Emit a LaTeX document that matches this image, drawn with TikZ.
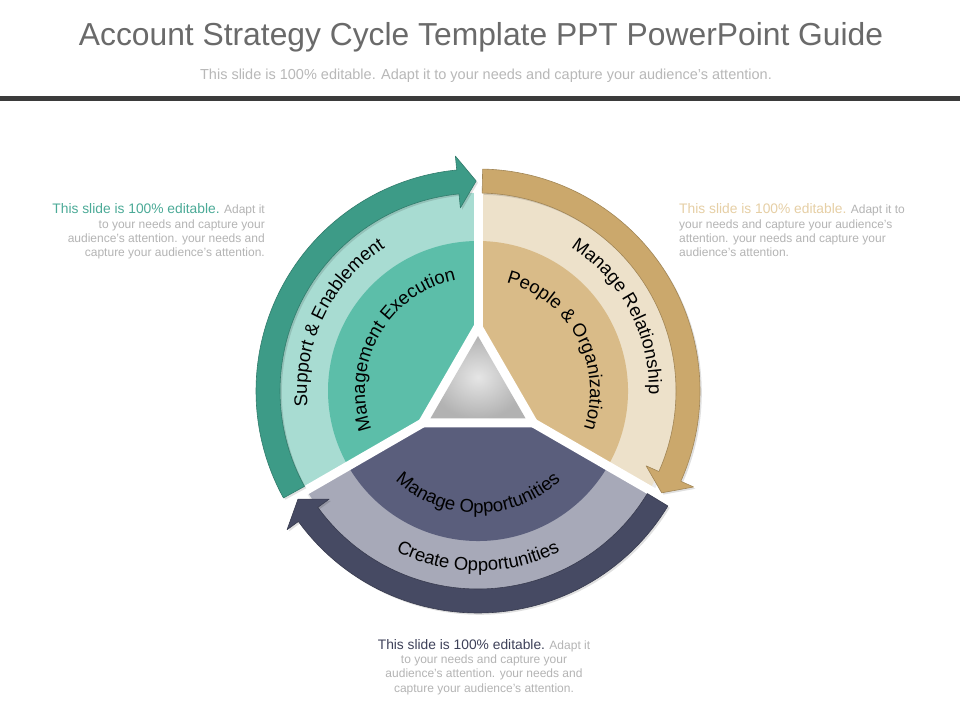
\documentclass[tikz,border=0pt]{standalone}
\usepackage{fontspec}
\setmainfont{Liberation Sans}
\usetikzlibrary{decorations.text}
\definecolor{titlegray}{HTML}{6A6A6A}
\definecolor{subgray}{HTML}{B8B8B8}
\definecolor{bodygray}{HTML}{B4B4B4}
\definecolor{bardark}{HTML}{3B3B3B}
\definecolor{tealpale}{HTML}{A8DCD2}
\definecolor{tealmid}{HTML}{5CBEA9}
\definecolor{tealband}{HTML}{3D9B87}
\definecolor{tanpale}{HTML}{EDE1CA}
\definecolor{tanmid}{HTML}{D9BB88}
\definecolor{tanband}{HTML}{CBA86C}
\definecolor{slatepale}{HTML}{A7A9B8}
\definecolor{slatemid}{HTML}{5A5E7C}
\definecolor{slateband}{HTML}{464A63}
\definecolor{tealtext}{HTML}{4BAA97}
\definecolor{tantext}{HTML}{E6CFA5}
\definecolor{slatetext}{HTML}{3E4159}
\newcommand\arclab{\fontsize{18.5}{22}\selectfont\color{black}}
\newcommand\sectorfill[4]{\fill[#1] (0,0) -- (#2:#4) arc[start angle=#2, end angle=#3, radius=#4] -- cycle;}
\newcommand\arrowpath[3]{(#1:222) arc[start angle=#1, end angle=#2, radius=222] -- (#2:236) -- (#3:210) -- (#2:184) -- (#2:198) arc[start angle=#2, end angle=#1, radius=198] -- cycle}
\newcommand\cycarrow[4]{%
  \fill[black, opacity=0.12, shift={(1.8,-1.8)}] \arrowpath{#2}{#3}{#4};
  \filldraw[fill=#1, draw=#1!80!black, line width=0.6, line join=round] \arrowpath{#2}{#3}{#4};}
\tikzset{
  bodytext/.style={font=\fontsize{12}{14}\selectfont, text=bodygray},
  blockline/.style={inner sep=0pt}
}
\begin{document}
\begin{tikzpicture}[x=1pt,y=1pt]
\useasboundingbox (0,0) rectangle (960,720);
\fill[white] (0,0) rectangle (960,720);
% header
\node[anchor=base, inner sep=0, text=titlegray, font=\fontsize{31.8}{36}\selectfont] (title) at (481,674) {Account Strategy Cycle Template PPT PowerPoint Guide};
\node[anchor=base, inner sep=0, text=subgray, font=\fontsize{14.5}{17}\selectfont] (subtitle) at (486,640) {This slide is 100\% editable. Adapt it to your needs and capture your audience's attention.};
\fill[bardark] (0,619) rectangle (960,624);
% left block
\node[blockline, anchor=base east] (l1) at (265,506) {\textcolor{tealtext}{\fontsize{13.8}{16}\selectfont This slide is 100\% editable.}\textcolor{bodygray}{\fontsize{12}{14}\selectfont{} Adapt it}};
\node[blockline, bodytext, anchor=base east] (l2) at (265,491.7) {to your needs and capture your};
\node[blockline, bodytext, anchor=base east] (l3) at (265,477.3) {audience's attention. your needs and};
\node[blockline, bodytext, anchor=base east] (l4) at (265,463) {capture your audience's attention.};
% right block
\node[blockline, anchor=base west] (r1) at (679,506) {\textcolor{tantext}{\fontsize{13.8}{16}\selectfont This slide is 100\% editable.}\textcolor{bodygray}{\fontsize{12}{14}\selectfont{} Adapt it to}};
\node[blockline, bodytext, anchor=base west] (r2) at (679,491.7) {your needs and capture your audience's};
\node[blockline, bodytext, anchor=base west] (r3) at (679,477.3) {attention. your needs and capture your};
\node[blockline, bodytext, anchor=base west] (r4) at (679,463) {audience's attention.};
% bottom block
\node[blockline, anchor=base] (b1) at (484,71) {\textcolor{slatetext}{\fontsize{13.8}{16}\selectfont This slide is 100\% editable.}\textcolor{bodygray}{\fontsize{12}{14}\selectfont{} Adapt it}};
\node[blockline, bodytext, anchor=base] (b2) at (484,56.7) {to your needs and capture your};
\node[blockline, bodytext, anchor=base] (b3) at (484,42.3) {audience's attention. your needs and};
\node[blockline, bodytext, anchor=base] (b4) at (484,28) {capture your audience's attention.};
% cycle
\begin{scope}[shift={(478,329)}]
  \fill[black, opacity=0.08] (1.5,-1.5) circle[radius=200];
  \sectorfill{tealpale}{90}{210}{198}
  \sectorfill{tanpale}{-30}{90}{198}
  \sectorfill{slatepale}{210}{330}{198}
  \sectorfill{tealmid}{90}{210}{150}
  \sectorfill{tanmid}{-30}{90}{150}
  \sectorfill{slatemid}{210}{330}{150}
  \foreach \a in {90,210,330} \draw[white, line width=9] (0,0) -- (\a:246);
  \fill[white] (90:73) -- (210:73) -- (330:73) -- cycle;
  \shade[inner color=black!10, outer color=black!30] (90:55) -- (210:55) -- (330:55) -- cycle;
  % arrows
  \cycarrow{tealband}{208.8}{95.5}{90.5}
  \cycarrow{tanband}{88.8}{-24}{-29}
  \cycarrow{slateband}{-31.2}{-144}{-149}
  % arc labels
  \path[decorate, decoration={text along path, text align=center, text={|\arclab|Support {\&} Enablement}}]
    (224:171) arc[start angle=224, end angle=84, radius=171];
  \path[decorate, decoration={text along path, text align=center, text={|\arclab|Management Execution}}]
    (250.5:113) arc[start angle=250.5, end angle=50.5, radius=113];
  \path[decorate, decoration={text along path, text align=center, text={|\arclab|Manage Relationship}}]
    (98:171) arc[start angle=98, end angle=-42, radius=171];
  \path[decorate, decoration={text along path, text align=center, text={|\arclab|People {\&} Organization}}]
    (128:112) arc[start angle=128, end angle=-72, radius=112];
  \path[decorate, decoration={text along path, text align=center, text={|\arclab|Create Opportunities}}]
    (200:180) arc[start angle=200, end angle=340, radius=180];
  \path[decorate, decoration={text along path, text align=center, text={|\arclab|Manage Opportunities}}]
    (180:122) arc[start angle=180, end angle=360, radius=122];
\end{scope}
\end{tikzpicture}
\end{document}
